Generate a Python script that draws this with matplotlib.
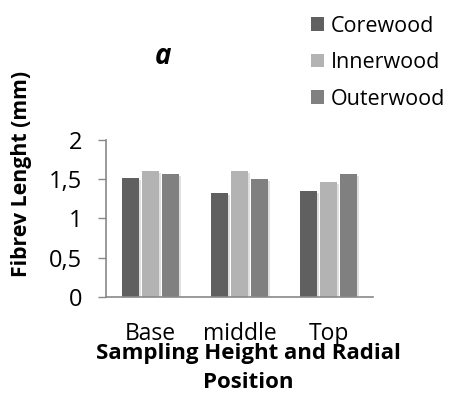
import numpy as np
import matplotlib
matplotlib.use("Agg")
from matplotlib import pyplot as plt
from matplotlib import patheffects as pe
from matplotlib.patches import Patch

# data
heights = ["Base", "middle", "Top"]
corewood = [1.52, 1.32, 1.35]
innerwood = [1.61, 1.61, 1.47]
outerwood = [1.57, 1.50, 1.57]
series_names = ["Corewood", "Innerwood", "Outerwood"]
series_colors = ["#606060", "#b3b3b3", "#808080"]

plt.rcParams['font.family'] = ['Open Sans', 'DejaVu Sans']

W, H = 451, 394
fig = plt.figure(figsize=(W / 100, H / 100), dpi=100)
ax = fig.add_axes([106 / W, 1 - 296.7 / H, 267 / W, 156.7 / H])

x = np.arange(len(heights))
bw = 0.19
step = 0.225
shadow = [pe.SimplePatchShadow(offset=(1.5, -1.5), shadow_rgbFace="#000000", alpha=0.12), pe.Normal()]
for k, (vals, col) in enumerate(zip([corewood, innerwood, outerwood], series_colors)):
    b = ax.bar(x + (k - 1) * step, vals, width=bw, color=col, zorder=2)
    for r in b:
        r.set_path_effects(shadow)

ax.set_xlim(-0.5, 2.5)
ax.set_ylim(0, 2)
ax.set_yticks([0, 0.5, 1, 1.5, 2])
ax.set_yticklabels(["0", "0,5", "1", "1,5", "2"])
ax.set_xticks(x)
ax.set_xticklabels(heights)
ax.tick_params(axis='x', length=0, pad=18, labelsize=16.5)
ax.tick_params(axis='y', length=6, width=1, color="#898989", pad=11, labelsize=17)
for s in ["top", "right"]:
    ax.spines[s].set_visible(False)
for s in ["left", "bottom"]:
    ax.spines[s].set_color("#898989")
    ax.spines[s].set_linewidth(1.2)

fig.text(22 / W, 1 - 174 / H, "Fibrev Lenght (mm)", rotation=90, ha="center", va="center",
         fontsize=15.3, fontweight="bold")
fig.text(163 / W, 1 - 57 / H, "a", ha="center", va="center", fontsize=20,
         fontweight="bold", fontstyle="italic")
fig.text(248 / W, 1 - 368 / H, "Sampling Height and Radial\nPosition", ha="center", va="center",
         fontsize=16, fontweight="bold", linespacing=1.45)

handles = [Patch(facecolor=c, label=n) for n, c in zip(series_names, series_colors)]
fig.legend(handles=handles, loc="upper left", bbox_to_anchor=(302 / W, 1 - 7 / H), frameon=False,
           fontsize=15.5, handlelength=0.6, handleheight=0.6, handletextpad=0.35,
           labelspacing=0.72, borderaxespad=0)

fig.savefig("out.png", dpi=100)
